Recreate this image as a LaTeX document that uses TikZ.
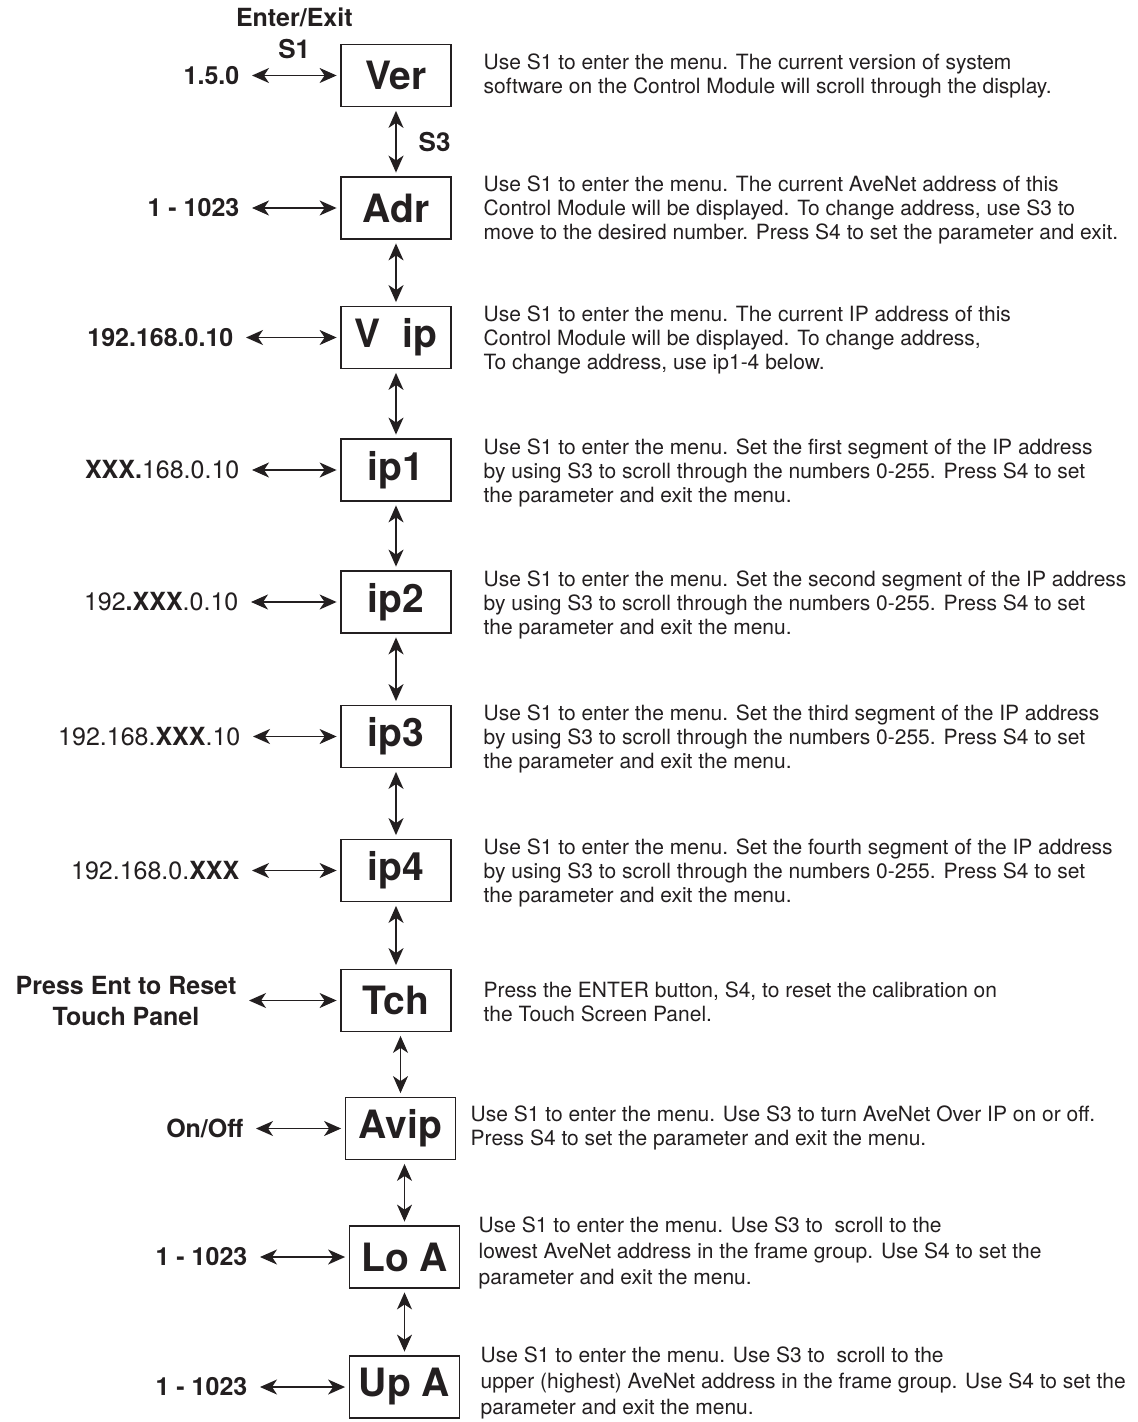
\documentclass[tikz,border=0pt]{standalone}
\usepackage{fontspec}
\setmainfont{TeX Gyre Heros}
\usetikzlibrary{arrows.meta,positioning}
\definecolor{ink}{HTML}{231F20}

\begin{document}
\begin{tikzpicture}[
  x=0.5pt, y=-0.5pt, >={Stealth[length=8.5pt,width=7.5pt,inset=2.5pt]}, line width=0.7pt,
  menu/.style={draw=ink, line width=0.8pt, minimum width=55pt, minimum height=31pt,
    inner sep=0pt, outer sep=2.2pt, text=ink, font=\fontsize{19.5}{20}\selectfont\bfseries},
  val/.style={anchor=east, inner xsep=6pt, inner ysep=0pt, align=center, text=ink,
    font=\fontsize{12.5}{15.5}\selectfont},
  desc/.style={anchor=west, inner sep=0pt, align=left, text=ink,
    font=\fontsize{10.5}{12}\selectfont},
  key/.style={inner sep=0pt, text=ink, font=\fontsize{13}{13}\selectfont\bfseries},
  arr/.style={<->, draw=ink}]
\useasboundingbox (0,0) rectangle (1137,1422);

% menu column
\node[menu] (ver)  at (396,75.5)   {Ver};
\node[menu] (adr)  at (396,208)    {Adr};
\node[menu] (vip)  at (396,337.5)  {V\ \ ip};
\node[menu] (ipa)  at (396,470)    {ip1};
\node[menu] (ipb)  at (396,602)    {ip2};
\node[menu] (ipc)  at (396,736.5)  {ip3};
\node[menu] (ipd)  at (396,870.5)  {ip4};
\node[menu] (tch)  at (396,1000.5) {Tch};
\node[menu] (avip) at (400.5,1128.5) {Avip};
\node[menu] (loa)  at (404.5,1257) {Lo A};
\node[menu] (upa)  at (404.5,1387) {Up A};

% S3 scrolls down the menu
\draw[arr] (ver.south) -- (adr.north) node[midway, right=11pt, key] (sthree) {S3};
\draw[arr] (adr.south) -- (vip.north);
\draw[arr] (vip.south) -- (ipa.north);
\draw[arr] (ipa.south) -- (ipb.north);
\draw[arr] (ipb.south) -- (ipc.north);
\draw[arr] (ipc.south) -- (ipd.north);
\draw[arr] (ipd.south) -- (tch.north);
\draw[arr] (tch.south -| avip.north) -- (avip.north);
\draw[arr] (avip.south -| loa.north) -- (loa.north);
\draw[arr] (loa.south) -- (upa.north);

% values shown on entering (S1)
\node[val] (verv)  at (252,75.5)   {\textbf{1.5.0}};
\node[val] (adrv)  at (252,208)    {\textbf{1 - 1023}};
\node[val] (vipv)  at (246,337.5)  {\textbf{192.168.0.10}};
\node[val] (ipav)  at (252,470)    {\textbf{XXX.}168.0.10};
\node[val] (ipbv)  at (251,602)    {192\textbf{.XXX}.0.10};
\node[val] (ipcv)  at (253,736.5)  {192.168.\textbf{XXX}.10};
\node[val] (ipdv)  at (252,870.5)  {192.168.0.\textbf{XXX}};
\node[val, font=\fontsize{12.5}{15.5}\selectfont\bfseries] (tchv) at (249,1000.5)
  {Press Ent to Reset\\Touch Panel};
\node[val] (avipv) at (256,1128.5) {\textbf{On/Off}};
\node[val] (loav)  at (260,1257)   {\textbf{1 - 1023}};
\node[val] (upav)  at (260,1387)   {\textbf{1 - 1023}};

\draw[arr] (verv.east |- ver.west) -- (ver.west)
  node[midway, above=8pt, key] (sone) {S1};
\node[key, font=\fontsize{12.5}{12.5}\selectfont\bfseries, above=5.5pt of sone] (entex) {Enter/Exit};
\draw[arr] (adrv.east |- adr.west) -- (adr.west);
\draw[arr] (vipv.east |- vip.west) -- (vip.west);
\draw[arr] (ipav.east |- ipa.west) -- (ipa.west);
\draw[arr] (ipbv.east |- ipb.west) -- (ipb.west);
\draw[arr] (ipcv.east |- ipc.west) -- (ipc.west);
\draw[arr] (ipdv.east |- ipd.west) -- (ipd.west);
\draw[arr] (tchv.east |- tch.west) -- (tch.west);
\draw[arr] (avipv.east |- avip.west) -- (avip.west);
\draw[arr] (loav.east |- loa.west) -- (loa.west);
\draw[arr] (upav.east |- upa.west) -- (upa.west);

% descriptions
\node[desc] (verd) at (483,76) {Use S1 to enter the menu. The current version of system\\
  software on the Control Module will scroll through the display.};
\node[desc] (adrd) at (483,210) {Use S1 to enter the menu. The current AveNet address of this\\
  Control Module will be displayed. To change address, use S3 to\\
  move to the desired number. Press S4 to set the parameter and exit.};
\node[desc] (vipd) at (483,340) {Use S1 to enter the menu. The current IP address of this\\
  Control Module will be displayed. To change address,\\
  To change address, use ip1-4 below.};
\node[desc] (ipad) at (483,473) {Use S1 to enter the menu. Set the first segment of the IP address\\
  by using S3 to scroll through the numbers 0-255. Press S4 to set\\
  the parameter and exit the menu.};
\node[desc] (ipbd) at (483,605) {Use S1 to enter the menu. Set the second segment of the IP address\\
  by using S3 to scroll through the numbers 0-255. Press S4 to set\\
  the parameter and exit the menu.};
\node[desc] (ipcd) at (483,739) {Use S1 to enter the menu. Set the third segment of the IP address\\
  by using S3 to scroll through the numbers 0-255. Press S4 to set\\
  the parameter and exit the menu.};
\node[desc] (ipdd) at (483,873) {Use S1 to enter the menu. Set the fourth segment of the IP address\\
  by using S3 to scroll through the numbers 0-255. Press S4 to set\\
  the parameter and exit the menu.};
\node[desc] (tchd) at (483,1002) {Press the ENTER button, S4, to reset the calibration on\\
  the Touch Screen Panel.};
\node[desc] (avipd) at (470,1128) {Use S1 to enter the menu. Use S3 to turn AveNet Over IP on or off.\\
  Press S4 to set the parameter and exit the menu.};
\node[desc, font=\fontsize{10.5}{13}\selectfont] (load) at (478,1253)
  {Use S1 to enter the menu. Use S3 to\ \ scroll to the\\
  lowest AveNet address in the frame group. Use S4 to set the\\
  parameter and exit the menu.};
\node[desc, font=\fontsize{10.5}{13}\selectfont] (upad) at (480,1383)
  {Use S1 to enter the menu. Use S3 to\ \ scroll to the\\
  upper (highest) AveNet address in the frame group. Use S4 to set the\\
  parameter and exit the menu.};
\end{tikzpicture}
\end{document}
